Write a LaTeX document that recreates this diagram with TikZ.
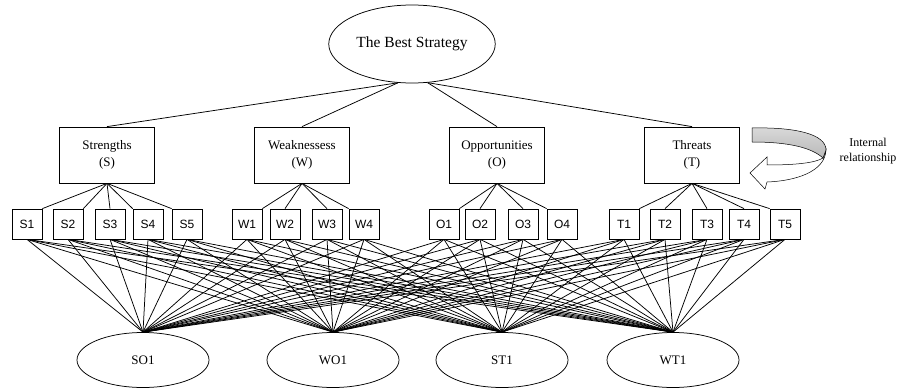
\documentclass[tikz,border=0pt]{standalone}
\usepackage{fontspec}
\setmainfont{Liberation Serif}
\setsansfont{Liberation Sans}
\usetikzlibrary{shapes.geometric}

\begin{document}
\begin{tikzpicture}[x=1pt, y=-1pt, line width=0.75pt,
        goal/.style={draw, ellipse, minimum width=156pt, minimum height=78pt, font=\fontsize{15.5}{18}\selectfont},
        group/.style={draw, rectangle, minimum width=95pt, minimum height=56pt, align=center, font=\fontsize{13}{17}\selectfont},
        factor/.style={draw, rectangle, minimum width=30pt, minimum height=30pt, inner sep=0pt, font=\sffamily\fontsize{12}{14}\selectfont},
        alt/.style={draw, ellipse, minimum width=132pt, minimum height=55pt, font=\fontsize{13}{15}\selectfont}
      ]
        \useasboundingbox (0,0) rectangle (899,390);

        % goal
        \node[goal] (best) at (412,44) {The Best Strategy};

        % criteria
        \node[group] (str) at (107,155) {Strengths\\(S)};
        \node[group] (wea) at (302,155) {Weaknessess\\(W)};
        \node[group] (opp) at (497,155) {Opportunities\\(O)};
        \node[group] (thr) at (692,155) {Threats\\(T)};

        % sub-criteria
        \node[factor] (S1) at (27,224) {S1};
        \node[factor] (S2) at (68,224) {S2};
        \node[factor] (S3) at (110,224) {S3};
        \node[factor] (S4) at (148,224) {S4};
        \node[factor] (S5) at (187,224) {S5};
        \node[factor] (W1) at (247,224) {W1};
        \node[factor] (W2) at (285,224) {W2};
        \node[factor] (W3) at (327,224) {W3};
        \node[factor] (W4) at (364,224) {W4};
        \node[factor] (O1) at (444,224) {O1};
        \node[factor] (O2) at (480,224) {O2};
        \node[factor] (O3) at (523,224) {O3};
        \node[factor] (O4) at (562,224) {O4};
        \node[factor] (T1) at (624,224) {T1};
        \node[factor] (T2) at (665,224) {T2};
        \node[factor] (T3) at (707,224) {T3};
        \node[factor] (T4) at (744,224) {T4};
        \node[factor] (T5) at (785,224) {T5};

        % alternatives
        \node[alt] (SO1) at (143,360) {SO1};
        \node[alt] (WO1) at (333,360) {WO1};
        \node[alt] (ST1) at (502,360) {ST1};
        \node[alt] (WT1) at (673,360) {WT1};

        \draw (best.250) -- (str.north);
        \draw (best.250) -- (wea.north);
        \draw (best.292) -- (opp.north);
        \draw (best.292) -- (thr.north);

        \foreach \g/\f/\a in {str/S1/north east, str/S2/north east, str/S3/north, str/S4/north west, str/S5/north west,
                              wea/W1/north east, wea/W2/north, wea/W3/north, wea/W4/north west,
                              opp/O1/north east, opp/O2/north, opp/O3/north, opp/O4/north west,
                              thr/T1/north east, thr/T2/north, thr/T3/north, thr/T4/north, thr/T5/north west}
          \draw (\g.south) -- (\f.\a);

        \foreach \f in {S1,S2,S3,S4,S5,W1,W2,W3,W4,O1,O2,O3,O4,T1,T2,T3,T4,T5}
          \foreach \s in {SO1,WO1,ST1,WT1}
            \draw (\f.south) -- (\s.north);

        % internal relationship
        \draw[line width=0.5pt, fill=white] (826,150) .. controls (825,172) and (795,181) .. (767,182) -- (765,189) -- (750,173)
          -- (767,157) -- (767,165) .. controls (795,165) and (815,163) .. (823,158) -- cycle;
        \draw[line width=0.5pt, top color=gray!30, bottom color=gray!55] (752,128) .. controls (795,127) and (826,134) .. (826,150)
          -- (823,158) .. controls (812,148) and (790,142) .. (752,142) -- cycle;
        \node[align=center, font=\fontsize{12}{15}\selectfont] (irel) at (868,151) {Internal\\relationship};
      \end{tikzpicture}
\end{document}
